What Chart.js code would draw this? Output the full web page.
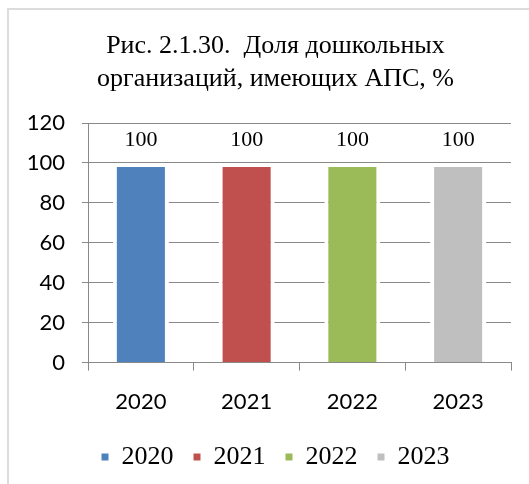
<!DOCTYPE html>
<html>
<head>
<meta charset="utf-8">
<script src="https://cdn.jsdelivr.net/npm/chart.js@4/dist/chart.umd.min.js"></script>
<style>
  html, body { margin: 0; padding: 0; background: #fff; }
  #wrap { position: relative; width: 529px; height: 484px; overflow: hidden; }
  #frame { position: absolute; left: 7px; top: 8px; width: 600px; height: 600px;
           border-left: 2px solid #dcdcdc; border-top: 2px solid #dcdcdc; box-sizing: border-box; }
  canvas { position: absolute; left: 0; top: 0; }
</style>
</head>
<body>
<div id="wrap">
  <div id="frame"></div>
  <canvas id="c" width="529" height="484"></canvas>
</div>
<script>
const titleLines = ['Рис. 2.1.30.  Доля дошкольных', 'организаций, имеющих АПС, %'];
const categories = ['2020', '2021', '2022', '2023'];
const values = [100, 100, 100, 100];
const colors = ['#4f81bd', '#c0504d', '#9bbb59', '#bfbfbf'];
const yTicks = { min: 0, max: 120, step: 20 };

const datasets = categories.map((cat, i) => ({
  label: cat,
  data: categories.map((_, j) => (j === i ? values[i] : null)),
  backgroundColor: colors[i],
  borderColor: '#ffffff',
  borderWidth: 4,
  borderSkipped: 'bottom',
  grouped: false,
  categoryPercentage: 1,
  barPercentage: 0.53
}));

const valueLabels = {
  id: 'valueLabels',
  afterDatasetsDraw(chart) {
    const ctx = chart.ctx;
    ctx.save();
    ctx.font = '22px "Liberation Serif"';
    ctx.fillStyle = '#000';
    ctx.textAlign = 'center';
    ctx.textBaseline = 'middle';
    chart.data.datasets.forEach((ds, i) => {
      const meta = chart.getDatasetMeta(i);
      meta.data.forEach((bar, j) => {
        const v = ds.data[j];
        if (v === null || v === undefined) return;
        ctx.fillText(String(v), bar.x, bar.y - 23);
      });
    });
    ctx.restore();
  }
};

const gridColor = '#898989';

new Chart(document.getElementById('c'), {
  type: 'bar',
  data: { labels: categories, datasets },
  options: {
    responsive: false,
    animation: false,
    layout: { padding: { left: 40, right: 18, top: 0, bottom: 4 } },
    plugins: {
      title: {
        display: true,
        text: titleLines,
        color: '#000',
        font: { family: 'Liberation Serif', size: 26, weight: 'normal', lineHeight: 1.27 },
        padding: { top: 30, bottom: 27 }
      },
      legend: {
        position: 'bottom',
        labels: {
          color: '#000',
          font: { family: 'Liberation Serif', size: 26 },
          boxWidth: 7,
          boxHeight: 7,
          padding: 20,
          generateLabels(chart) {
            const items = Chart.defaults.plugins.legend.labels.generateLabels(chart);
            items.forEach(it => { it.lineWidth = 0; it.strokeStyle = 'rgba(0,0,0,0)'; });
            return items;
          }
        }
      },
      tooltip: { enabled: false }
    },
    scales: {
      x: {
        offset: true,
        grid: { display: true, drawOnChartArea: false, drawTicks: true, tickLength: 8, color: gridColor, offset: true },
        border: { display: true, color: gridColor },
        ticks: { color: '#000', font: { family: 'Lato', size: 22 }, padding: 18 },
        afterFit(scale) { scale.height = scale.height - 9; }
      },
      y: {
        min: yTicks.min,
        max: yTicks.max,
        ticks: { stepSize: yTicks.step, color: '#000', font: { family: 'Lato', size: 22 }, padding: 17 },
        grid: { color: gridColor, tickLength: 6 },
        border: { display: true, color: gridColor },
        afterFit(scale) {
          scale.width = 48;
          scale._computeLabelArea = function () { return undefined; };
        }
      }
    }
  },
  plugins: [valueLabels]
});
</script>
</body>
</html>
